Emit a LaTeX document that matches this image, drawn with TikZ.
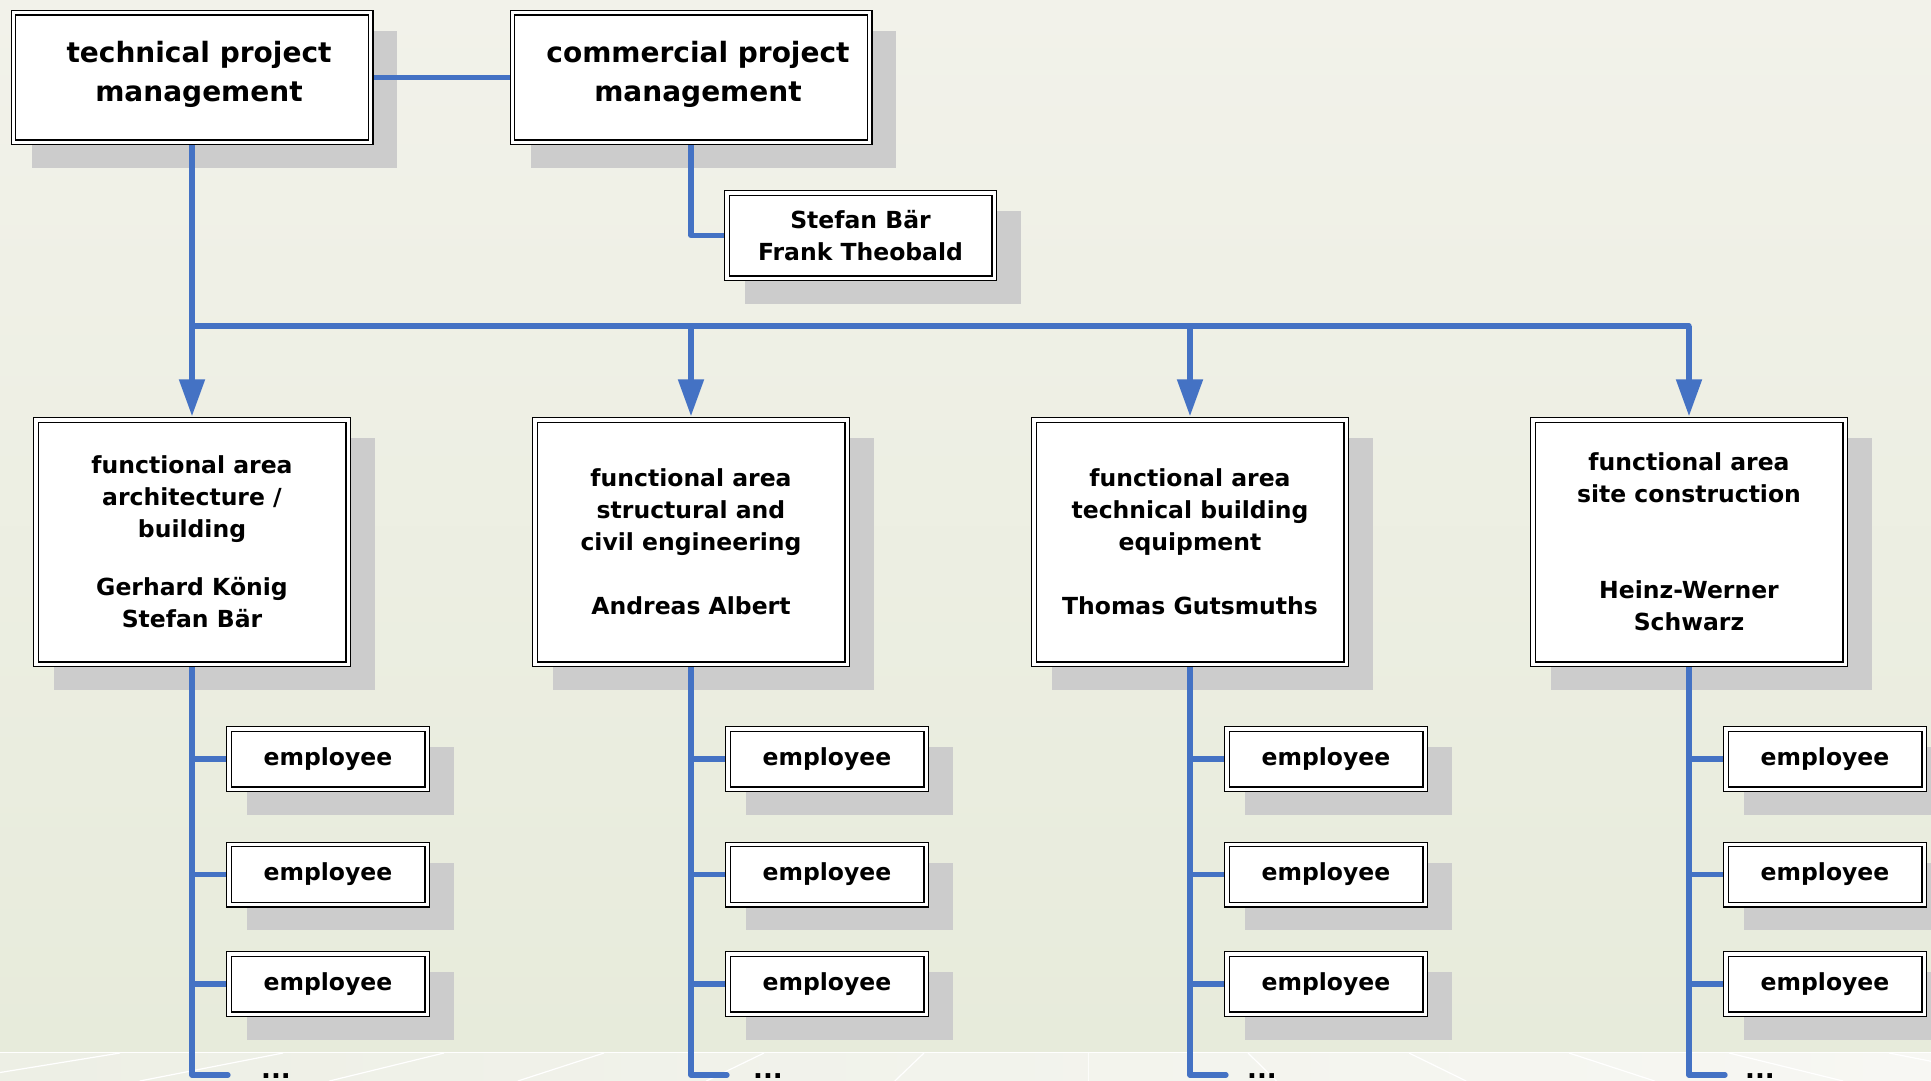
\documentclass[tikz,border=0pt]{standalone}
\usepackage{fontspec}
\setmainfont{DejaVu Sans}
\usetikzlibrary{arrows.meta,calc}
\definecolor{bgtop}{RGB}{242,242,234}
\definecolor{bgbot}{RGB}{231,235,219}
\definecolor{stripl}{RGB}{237,239,229}
\definecolor{stripr}{RGB}{247,247,243}
\definecolor{shadowgray}{RGB}{204,204,204}
\definecolor{linkblue}{RGB}{68,114,196}
\pgfdeclarelayer{bg}
\pgfdeclarelayer{shadow}
\pgfsetlayers{bg,shadow,main}
\tikzset{
  box/.style={draw=black, line width=1.3pt, double=white, double distance=3.2pt, fill=white,
    inner sep=0pt, align=center, font=\bfseries\fontsize{23.5}{32}\selectfont},
  conn/.style={draw=linkblue, line width=5.3pt, line join=round, line cap=round},
  arr/.style={draw=linkblue, line width=5.3pt, -{Triangle[width=25pt,length=37pt]}, shorten >=3pt},
  bigtext/.style={align=center, font=\bfseries\fontsize{28}{39}\selectfont, inner sep=0pt},
  topbox/.style={box, minimum width=357.2pt, minimum height=129.2pt},
  fabox/.style={box, minimum width=312.2pt, minimum height=244.2pt},
  empbox/.style={box, minimum width=198.2pt, minimum height=60.2pt},
  dots/.style={font=\bfseries\fontsize{26}{32}\selectfont, inner sep=0pt, anchor=base},
}
\begin{document}
\begin{tikzpicture}[x=1pt,y=-1pt]
\useasboundingbox (0,0) rectangle (1931,1081);
% boxes
\node[topbox] (tpm) at (192,77.5) {};
\node[bigtext] (tpmtext) at (199,74) {technical project\\management};
\node[topbox] (cpm) at (691,77.5) {};
\node[bigtext] (cpmtext) at (698,74) {commercial project\\management};
\node[box, minimum width=267.2pt, minimum height=85.2pt] (names) at (860.5,235.5) {Stefan Bär\\Frank Theobald};

\node[fabox] (fa1) at (192,542) {functional area\\architecture /\\building\\[26pt]Gerhard König\\Stefan Bär};
\node[fabox] (fa2) at (691,542) {functional area\\structural and\\civil engineering\\[32pt]Andreas Albert};
\node[fabox] (fa3) at (1190,542) {functional area\\technical building\\equipment\\[32pt]Thomas Gutsmuths};
\node[fabox] (fa4) at (1689,542) {functional area\\site construction\\[64pt]Heinz-Werner\\Schwarz};

\foreach \i/\x/\dx in {1/192/84,2/691/77,3/1190/72,4/1689/71}{
  \node[empbox] (e\i1) at ({\x+136},759) {employee};
  \node[empbox] (e\i2) at ({\x+136},874.5) {employee};
  \node[empbox] (e\i3) at ({\x+136},984) {employee};
  \coordinate (j\i) at (\x,326);
  \coordinate (b\i) at (\x,1075);
  \coordinate (t\i) at ({\x+36},1075);
  \node[dots] (d\i) at ({\x+\dx},1078) {...};
}

% background
\begin{pgfonlayer}{bg}
\begin{scope}
\clip (0,0) rectangle (1931,1081);
\shade[top color=bgtop, bottom color=bgbot] (0,0) rectangle (1931,1052);
\shade[left color=stripl, right color=stripr] (0,1052) rectangle (1931,1081);
\draw[white, line width=1.6pt] (0,1052.5) -- (1931,1052.5);
\foreach \t in {120,283,444,604,764,924,1248,1409,1569,1729,1889}
  \draw[white, line width=1.2pt] (\t,1053) -- ({\t+(\t-1088)*0.178},1081);
\draw[white!60!stripr, line width=0.8pt] (1088,1053) -- (1088,1081);
\end{scope}
\end{pgfonlayer}

% shadows and connectors
\begin{pgfonlayer}{shadow}
\foreach \n in {tpm,cpm,names,fa1,fa2,fa3,fa4,e11,e12,e13,e21,e22,e23,e31,e32,e33,e41,e42,e43}
  \fill[shadowgray] ([shift={(19,19)}]\n.north west) rectangle ([shift={(26,25)}]\n.south east);
\draw[conn] (tpm.east) -- (cpm.west);
\draw[conn] (cpm.south) |- (names.west);
\draw[conn] (tpm.south) -- (j1) -- (j4);
\foreach \i in {1,2,3,4}{
  \draw[arr] (j\i) -- (fa\i.north);
  \draw[conn] (fa\i.south) -- (b\i) -- (t\i);
  \foreach \k in {1,2,3}
    \draw[conn] (fa\i.south |- e\i\k.west) -- (e\i\k.west);
}
\end{pgfonlayer}
\end{tikzpicture}
\end{document}
